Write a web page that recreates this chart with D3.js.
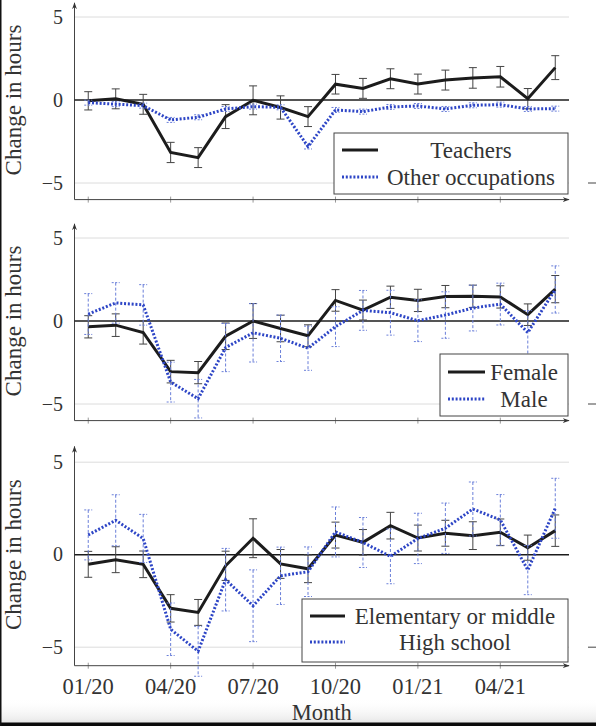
<!DOCTYPE html>
<html>
<head>
<meta charset="utf-8">
<script src="https://cdn.jsdelivr.net/npm/d3@7"></script>
<style>
  html, body { margin: 0; padding: 0; background: #fff; }
  svg { display: block; }
</style>
</head>
<body>
<svg width="596" height="726" font-family="'Liberation Serif', 'Times New Roman', Times, 'DejaVu Serif', serif"></svg>
<script>
// months on the x axis
const months = ["01/20","02/20","03/20","04/20","05/20","06/20","07/20","08/20","09/20",
                "10/20","11/20","12/20","01/21","02/21","03/21","04/21","05/21","06/21"];
const tickMonths = ["01/20","04/20","07/20","10/20","01/21","04/21"];
const yTicks = [5, 0, -5];

// panel 1
const teachers    = [-0.05, 0.07, -0.26, -3.16, -3.47, -1.0, -0.02, -0.45, -1.0, 0.95, 0.7, 1.28, 0.96, 1.2, 1.33, 1.4, 0.08, 1.95];
const teachersErr = [0.55, 0.6, 0.6, 0.61, 0.6, 0.72, 0.87, 0.7, 0.6, 0.59, 0.6, 0.6, 0.6, 0.6, 0.62, 0.62, 0.61, 0.72];
const otherOcc    = [-0.16, -0.25, -0.34, -1.2, -1.04, -0.54, -0.4, -0.44, -2.8, -0.6, -0.7, -0.42, -0.36, -0.54, -0.32, -0.28, -0.54, -0.52];
const otherOccErr = [0.15, 0.15, 0.15, 0.15, 0.15, 0.15, 0.15, 0.15, 0.15, 0.15, 0.15, 0.15, 0.15, 0.15, 0.15, 0.15, 0.15, 0.15];

// panel 2
const female    = [-0.35, -0.25, -0.69, -3.05, -3.11, -0.92, 0.0, -0.45, -0.89, 1.24, 0.66, 1.43, 1.24, 1.47, 1.49, 1.45, 0.38, 1.92];
const femaleErr = [0.67, 0.68, 0.7, 0.68, 0.67, 0.8, 1.05, 0.8, 0.66, 0.65, 0.6, 0.67, 0.67, 0.67, 0.67, 0.67, 0.65, 0.82];
const male      = [0.42, 1.09, 0.97, -3.68, -4.68, -1.6, -0.71, -1.04, -1.64, -0.34, 0.64, 0.5, 0.02, 0.36, 0.78, 1.02, -0.7, 1.9];
const maleErr   = [1.23, 1.22, 1.22, 1.2, 1.16, 1.45, 1.76, 1.4, 1.33, 1.2, 1.2, 1.35, 1.26, 1.4, 1.38, 1.26, 1.33, 1.42];

// panel 3
const elementary    = [-0.52, -0.27, -0.52, -2.9, -3.12, -0.6, 0.89, -0.5, -0.76, 1.06, 0.67, 1.57, 0.9, 1.16, 1.03, 1.21, 0.38, 1.3];
const elementaryErr = [0.7, 0.7, 0.72, 0.74, 0.7, 0.79, 1.05, 0.78, 0.75, 0.7, 0.69, 0.72, 0.7, 0.7, 0.75, 0.72, 0.68, 0.85];
const highSchool    = [1.07, 1.86, 0.88, -4.03, -5.22, -1.35, -2.76, -1.14, -0.92, 1.23, 0.66, -0.09, 0.88, 1.43, 2.47, 1.88, -0.83, 2.51];
const highSchoolErr = [1.35, 1.38, 1.3, 1.42, 1.35, 1.69, 1.94, 1.55, 1.34, 1.35, 1.35, 1.48, 1.36, 1.36, 1.46, 1.37, 1.33, 1.62];

const BLACK = "#1c1c1c", BLUE = "#2d45c6", BLUE_ERR = "#6a7fd9", TXT = "#333";
const svg = d3.select("svg");

const x = d3.scalePoint().domain(months).range([74.5, 569]).padding(0.5);
const xL = 74.5, xR = 569;

// arrow heads
const defs = svg.append("defs");
defs.append("marker").attr("id", "arr").attr("viewBox", "0 0 10 10")
  .attr("refX", 9).attr("refY", 5).attr("markerWidth", 7).attr("markerHeight", 7)
  .attr("orient", "auto")
  .append("path").attr("d", "M0,1.5 L10,5 L0,8.5 L3,5 Z").attr("fill", "#333");

// screenshot frame shade (drawn first, behind everything)
const grad = defs.append("linearGradient").attr("id", "shade").attr("x1", 0).attr("x2", 0).attr("y1", 0).attr("y2", 1);
grad.append("stop").attr("offset", 0).attr("stop-color", "#fff").attr("stop-opacity", 0);
grad.append("stop").attr("offset", 1).attr("stop-color", "#e6e6e6").attr("stop-opacity", 1);
svg.append("rect").attr("x", 0).attr("y", 698).attr("width", 596).attr("height", 25).attr("fill", "url(#shade)");

const panels = [
  { range: [199.6, 0.4], a: teachers, aErr: teachersErr, b: otherOcc, bErr: otherOccErr,
    names: ["Teachers", "Other occupations"],
    box: [334, 133, 234, 61], sample: [342, 378], rows: [150, 177], textX: 471 },
  { range: [420.6, 221.4], a: female, aErr: femaleErr, b: male, bErr: maleErr,
    names: ["Female", "Male"],
    box: [440, 354, 128, 62], sample: [448, 485], rows: [372, 399], textX: 524 },
  { range: [665.7, 443.7], a: elementary, aErr: elementaryErr, b: highSchool, bErr: highSchoolErr,
    names: ["Elementary or middle", "High school"],
    box: [302, 599, 266, 63], sample: [310, 345], rows: [616, 642], textX: 455 }
];

panels.forEach((p, pi) => {
  const y = d3.scaleLinear().domain([-6, 6]).range(p.range);
  const g = svg.append("g");

  // grid
  g.selectAll(".grid").data([5, -5]).enter().append("line")
    .attr("x1", xL).attr("x2", xR).attr("y1", d => y(d)).attr("y2", d => y(d))
    .attr("stroke", "#dcdcdc").attr("stroke-width", 1);

  // x ticks
  g.selectAll(".xt").data(tickMonths).enter().append("line")
    .attr("x1", d => x(d)).attr("x2", d => x(d))
    .attr("y1", y(-6) - 3).attr("y2", y(-6) + 3)
    .attr("stroke", "#999").attr("stroke-width", 1);

  // axes
  g.append("line").attr("x1", xL).attr("x2", xR).attr("y1", y(-6)).attr("y2", y(-6))
    .attr("stroke", "#444").attr("stroke-width", 1).attr("marker-end", "url(#arr)");
  g.append("line").attr("x1", xL).attr("x2", xL).attr("y1", y(-6)).attr("y2", y(5.85))
    .attr("stroke", "#444").attr("stroke-width", 1).attr("marker-end", "url(#arr)");

  // zero line
  g.append("line").attr("x1", xL).attr("x2", xR).attr("y1", y(0)).attr("y2", y(0))
    .attr("stroke", BLACK).attr("stroke-width", 1.6);

  // y tick labels
  g.selectAll(".yl").data(yTicks).enter().append("text")
    .attr("x", 63).attr("y", d => y(d) + 6.5)
    .attr("text-anchor", "end").attr("font-size", 20).attr("fill", TXT)
    .text(d => d < 0 ? "\u2212" + Math.abs(d) : d);

  // y label
  g.append("text")
    .attr("transform", `translate(21,${y(0)}) rotate(-90)`)
    .attr("text-anchor", "middle").attr("font-size", 23).attr("fill", TXT)
    .text("Change in hours");

  // stray minus from clipped neighbour
  g.append("line").attr("x1", 588).attr("x2", 596).attr("y1", y(-5)).attr("y2", y(-5))
    .attr("stroke", "#555").attr("stroke-width", 1.1);

  const series = [
    { vals: p.a, errs: p.aErr, color: BLACK, errColor: "#444", dash: null, errDash: null, width: 3 },
    { vals: p.b, errs: p.bErr, color: BLUE, errColor: BLUE_ERR, dash: "2,1.8", errDash: "3,2", width: 3 }
  ];

  series.forEach(s => {
    const pts = months.map((m, i) => ({ m, v: s.vals[i], e: s.errs[i] }));
    const eb = g.append("g");
    eb.selectAll(".bar").data(pts).enter().append("line")
      .attr("x1", d => x(d.m)).attr("x2", d => x(d.m))
      .attr("y1", d => y(d.v + d.e)).attr("y2", d => y(d.v - d.e))
      .attr("stroke", s.errColor).attr("stroke-width", 1)
      .attr("stroke-dasharray", s.errDash);
    ["top", "bot"].forEach(k => {
      eb.selectAll(".cap-" + k).data(pts).enter().append("line")
        .attr("x1", d => x(d.m) - 4).attr("x2", d => x(d.m) + 4)
        .attr("y1", d => y(k === "top" ? d.v + d.e : d.v - d.e))
        .attr("y2", d => y(k === "top" ? d.v + d.e : d.v - d.e))
        .attr("stroke", s.errColor).attr("stroke-width", 1)
        .attr("stroke-dasharray", s.errDash ? "2,1.5" : null);
    });
    g.append("path").datum(pts)
      .attr("d", d3.line().x(d => x(d.m)).y(d => y(d.v)))
      .attr("fill", "none").attr("stroke", s.color).attr("stroke-width", s.width)
      .attr("stroke-linejoin", "miter").attr("stroke-dasharray", s.dash);
  });

  // legend
  const lg = g.append("g");
  lg.append("rect").attr("x", p.box[0]).attr("y", p.box[1])
    .attr("width", p.box[2]).attr("height", p.box[3])
    .attr("fill", "#fff").attr("stroke", "#444").attr("stroke-width", 1);
  series.forEach((s, i) => {
    lg.append("line").attr("x1", p.sample[0]).attr("x2", p.sample[1])
      .attr("y1", p.rows[i]).attr("y2", p.rows[i])
      .attr("stroke", s.color).attr("stroke-width", s.width)
      .attr("stroke-dasharray", s.dash);
    lg.append("text").attr("x", p.textX).attr("y", p.rows[i] + 7.5)
      .attr("text-anchor", "middle").attr("font-size", 23).attr("fill", TXT)
      .text(p.names[i]);
  });

  // month labels under the last panel
  if (pi === panels.length - 1) {
    g.selectAll(".ml").data(tickMonths).enter().append("text")
      .attr("x", d => x(d)).attr("y", 694)
      .attr("text-anchor", "middle").attr("font-size", 22.5).attr("fill", TXT)
      .text(d => d);
    g.append("text").attr("x", (xL + xR) / 2).attr("y", 720)
      .attr("text-anchor", "middle").attr("font-size", 22.5).attr("fill", TXT).text("Month");
  }
});

// dark bottom band and left edge of the screenshot
svg.append("rect").attr("x", 0).attr("y", 722.5).attr("width", 596).attr("height", 4).attr("fill", "#0a0a0a");
svg.append("rect").attr("x", 0).attr("y", 0).attr("width", 1.5).attr("height", 726).attr("fill", "#111");
</script>
</body>
</html>
